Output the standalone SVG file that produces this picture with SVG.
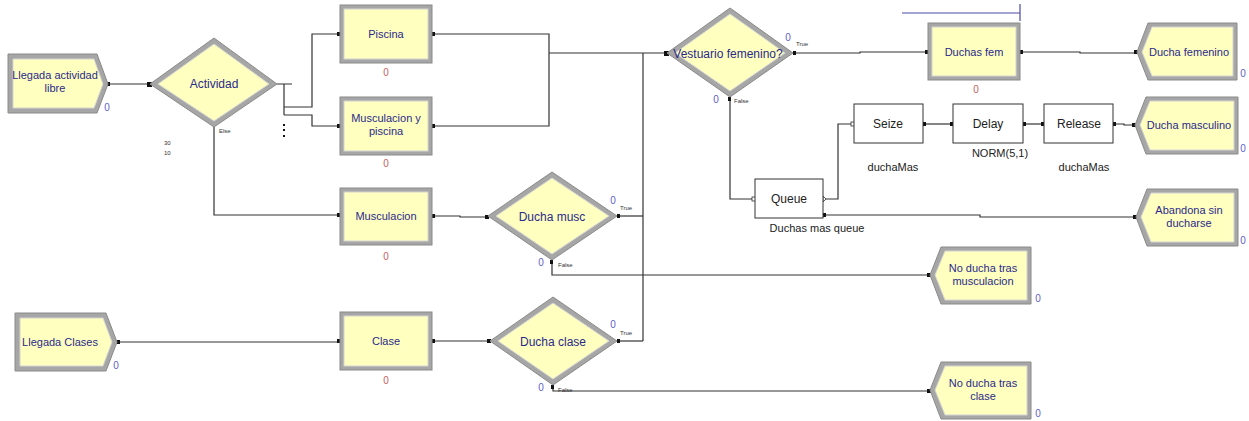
<svg xmlns="http://www.w3.org/2000/svg" width="1249" height="421" viewBox="0 0 1249 421">
<style>
.ob{fill:#a6a6a6;stroke:#8a8a8a;stroke-width:1}
.ib{fill:#ffffc0;stroke:#d4d4d4;stroke-width:1}
.wb{fill:#ffffff;stroke:#333;stroke-width:1}
.lb{font-family:"Liberation Sans",Arial,sans-serif;font-size:11px;fill:#2a2a8a;text-anchor:middle}
.dl{font-family:"Liberation Sans",Arial,sans-serif;font-size:12px;fill:#2a2a8a;text-anchor:middle}
.bl{font-family:"Liberation Sans",Arial,sans-serif;font-size:12px;fill:#222;text-anchor:middle}
.sl{font-family:"Liberation Sans",Arial,sans-serif;font-size:11px;fill:#222;text-anchor:middle}
.cr{font-family:"Liberation Sans",Arial,sans-serif;font-size:10px;fill:#c86060;text-anchor:middle}
.cb{font-family:"Liberation Sans",Arial,sans-serif;font-size:10px;fill:#6060c8;text-anchor:middle}
.tiny{font-family:"Liberation Sans",Arial,sans-serif;font-size:6px;fill:#333}
.cn{fill:none;stroke:#333;stroke-width:1.2}
.pt{fill:#111}
</style>
<g id="connectors">
<path class="cn" d="M108,84 H150"/>
<path class="cn" d="M277,84 H292 M284,84 V115 M284,107 H312 V34 H340 M284,115 H312 V126 H340"/>
<path class="cn" d="M214,127 V215 H340"/>
<path class="cn" d="M432,34 H549 V126 H432 M549,53 H667"/>
<path class="cn" d="M643,53 V341"/>
<path class="cn" d="M617,216 H643"/>
<path class="cn" d="M617,341 H643"/>
<path class="cn" d="M432,216 H460 V217 H488"/>
<path class="cn" d="M552,260 V275 H930"/>
<path class="cn" d="M117,342 H340"/>
<path class="cn" d="M432,341 H460 V341 H490"/>
<path class="cn" d="M553,385 V391 H930"/>
<path class="cn" d="M793,53 H860 V52 H928"/>
<path class="cn" d="M1020,52 H1080 V53 H1137"/>
<path class="cn" d="M730,97 V199 H755"/>
<path class="cn" d="M823,199 H838 V124 H854"/>
<path class="cn" d="M825,215 H980 V217 H1136"/>
<path class="cn" d="M923,124 H953"/>
<path class="cn" d="M1023,124 H1044"/>
<path class="cn" d="M1113,124 H1124 V125 H1135"/>
<path d="M902,13 H1020 M1020,4 V21" fill="none" stroke="#4a4aa8" stroke-width="1.2"/>
<rect class="pt" x="283" y="124" width="2" height="2"/>
<rect class="pt" x="283" y="129" width="2" height="2"/>
<rect class="pt" x="283" y="135" width="2" height="2"/>
<rect class="pt" x="106" y="82" width="4" height="4"/>
<rect class="pt" x="147" y="82" width="5" height="5"/>
<rect class="pt" x="337" y="32" width="4" height="4"/>
<rect class="pt" x="337" y="124" width="4" height="4"/>
<rect class="pt" x="337" y="213" width="4" height="4"/>
<rect class="pt" x="432" y="32" width="3" height="4"/>
<rect class="pt" x="432" y="124" width="3" height="4"/>
<rect class="pt" x="432" y="214" width="3" height="4"/>
<rect class="pt" x="664" y="51" width="5" height="5"/>
<rect class="pt" x="485" y="215" width="4" height="4"/>
<rect class="pt" x="617" y="214" width="3" height="4"/>
<rect class="pt" x="550" y="260" width="3" height="4"/>
<rect class="pt" x="927" y="273" width="4" height="4"/>
<rect class="pt" x="117" y="340" width="3" height="4"/>
<rect class="pt" x="337" y="339" width="4" height="4"/>
<rect class="pt" x="432" y="339" width="3" height="4"/>
<rect class="pt" x="487" y="339" width="4" height="4"/>
<rect class="pt" x="617" y="339" width="3" height="4"/>
<rect class="pt" x="551" y="385" width="3" height="4"/>
<rect class="pt" x="927" y="389" width="4" height="4"/>
<rect class="pt" x="793" y="51" width="3" height="4"/>
<rect class="pt" x="728" y="97" width="3" height="4"/>
<rect class="pt" x="925" y="50" width="4" height="4"/>
<rect class="pt" x="1020" y="50" width="3" height="4"/>
<rect class="pt" x="1134" y="50" width="4" height="4"/>
<rect x="752" y="197" width="4" height="4" fill="#fff" stroke="#333" stroke-width="0.8"/>
<rect x="851" y="122" width="4" height="4" fill="#fff" stroke="#333" stroke-width="0.8"/>
<path d="M823,196 L826,199 L823,202 Z" fill="#fff" stroke="#333" stroke-width="0.8"/>
<rect class="pt" x="823" y="213" width="3" height="4"/>
<rect class="pt" x="1133" y="215" width="4" height="4"/>
<rect class="pt" x="923" y="122" width="3" height="4"/>
<rect class="pt" x="950" y="122" width="4" height="4"/>
<rect class="pt" x="1023" y="122" width="3" height="4"/>
<rect class="pt" x="1041" y="122" width="4" height="4"/>
<rect class="pt" x="1113" y="122" width="3" height="4"/>
<rect class="pt" x="1132" y="123" width="4" height="4"/>
</g>
<g id="llegada-actividad-libre">
<polygon class="ob" points="8,54 97,54 108,84 97,113 8,113"/>
<polygon class="ib" points="13,59 94,59 103,84 94,108 13,108"/>
<text class="lb" x="55" y="79">Llegada actividad</text>
<text class="lb" x="55" y="92">libre</text>
<text class="cb" x="107" y="111">0</text>
</g>
<g id="actividad">
<polygon class="ob" points="150,84 214,38 277,84 214,127"/>
<polygon class="ib" points="158,84 214,44 269,84 214,121"/>
<text class="dl" x="214" y="88">Actividad</text>
<text class="tiny" x="219" y="133">Else</text>
<text class="tiny" x="164" y="145">30</text>
<text class="tiny" x="164" y="155">10</text>
</g>
<g id="piscina">
<rect class="ob" x="340" y="5" width="92" height="58"/>
<rect class="ib" x="344" y="9" width="84" height="50"/>
<text class="lb" x="386" y="38">Piscina</text>
<text class="cr" x="386" y="76">0</text>
</g>
<g id="musculacion-y-piscina">
<rect class="ob" x="340" y="97" width="92" height="58"/>
<rect class="ib" x="344" y="101" width="84" height="50"/>
<text class="lb" x="386" y="122">Musculacion y</text>
<text class="lb" x="386" y="135">piscina</text>
<text class="cr" x="386" y="167">0</text>
</g>
<g id="musculacion">
<rect class="ob" x="340" y="188" width="92" height="57"/>
<rect class="ib" x="344" y="192" width="84" height="49"/>
<text class="lb" x="386" y="220">Musculacion</text>
<text class="cr" x="386" y="260">0</text>
</g>
<g id="ducha-musc">
<polygon class="ob" points="488,216 552,172 617,216 552,260"/>
<polygon class="ib" points="496,216 552,178 609,216 552,254"/>
<text class="dl" x="552" y="221">Ducha musc</text>
<text class="cb" x="613" y="204">0</text>
<text class="cb" x="541" y="266">0</text>
<text class="tiny" x="620" y="210">True</text>
<text class="tiny" x="558" y="267">False</text>
</g>
<g id="llegada-clases">
<polygon class="ob" points="15,313 106,313 117,342 106,371 15,371"/>
<polygon class="ib" points="20,318 103,318 112,342 103,366 20,366"/>
<text class="lb" x="60" y="346">Llegada Clases</text>
<text class="cb" x="116" y="369">0</text>
</g>
<g id="clase">
<rect class="ob" x="340" y="312" width="92" height="58"/>
<rect class="ib" x="344" y="316" width="84" height="50"/>
<text class="lb" x="386" y="345">Clase</text>
<text class="cr" x="386" y="384">0</text>
</g>
<g id="ducha-clase">
<polygon class="ob" points="490,341 553,297 617,341 553,385"/>
<polygon class="ib" points="498,341 553,303 609,341 553,379"/>
<text class="dl" x="553" y="346">Ducha clase</text>
<text class="cb" x="613" y="328">0</text>
<text class="cb" x="541" y="391">0</text>
<text class="tiny" x="620" y="335">True</text>
<text class="tiny" x="558" y="392">False</text>
</g>
<g id="vestuario-femenino">
<polygon class="ob" points="667,53 730,8 793,53 730,97"/>
<polygon class="ib" points="675,53 730,14 785,53 730,91"/>
<text class="dl" x="728" y="58">Vestuario femenino?</text>
<text class="cb" x="788" y="41">0</text>
<text class="cb" x="716" y="103">0</text>
<text class="tiny" x="796" y="46">True</text>
<text class="tiny" x="734" y="103">False</text>
</g>
<g id="duchas-fem">
<rect class="ob" x="928" y="23" width="92" height="57"/>
<rect class="ib" x="932" y="27" width="84" height="49"/>
<text class="lb" x="974" y="56">Duchas fem</text>
<text class="cr" x="976" y="93">0</text>
</g>
<g id="ducha-femenino">
<polygon class="ob" points="1148,23 1237,23 1237,80 1148,80 1137,52"/>
<polygon class="ib" points="1152,27 1233,27 1233,76 1152,76 1142,52"/>
<text class="lb" x="1189" y="56">Ducha femenino</text>
<text class="cb" x="1243" y="77">0</text>
</g>
<g id="seize">
<rect class="wb" x="854" y="104" width="69" height="39"/>
<text class="bl" x="888" y="128">Seize</text>
<text class="sl" x="893" y="171">duchaMas</text>
</g>
<g id="delay">
<rect class="wb" x="953" y="104" width="70" height="39"/>
<text class="bl" x="988" y="128">Delay</text>
<text class="sl" x="1000" y="157">NORM(5,1)</text>
</g>
<g id="release">
<rect class="wb" x="1044" y="104" width="69" height="39"/>
<text class="bl" x="1079" y="128">Release</text>
<text class="sl" x="1084" y="171">duchaMas</text>
</g>
<g id="ducha-masculino">
<polygon class="ob" points="1146,97 1238,97 1238,154 1146,154 1135,125"/>
<polygon class="ib" points="1150,101 1234,101 1234,150 1150,150 1140,125"/>
<text class="lb" x="1189" y="129">Ducha masculino</text>
<text class="cb" x="1243" y="152">0</text>
</g>
<g id="queue">
<rect class="wb" x="755" y="179" width="68" height="39"/>
<text class="bl" x="789" y="203">Queue</text>
<text class="sl" x="817" y="232">Duchas mas queue</text>
</g>
<g id="abandona-sin-ducharse">
<polygon class="ob" points="1147,189 1238,189 1238,246 1147,246 1136,217"/>
<polygon class="ib" points="1151,193 1234,193 1234,242 1151,242 1141,217"/>
<text class="lb" x="1189" y="214">Abandona sin</text>
<text class="lb" x="1189" y="227">ducharse</text>
<text class="cb" x="1243" y="244">0</text>
</g>
<g id="no-ducha-tras-musculacion">
<polygon class="ob" points="941,247 1031,247 1031,304 941,304 930,275"/>
<polygon class="ib" points="945,251 1027,251 1027,300 945,300 935,275"/>
<text class="lb" x="983" y="272">No ducha tras</text>
<text class="lb" x="983" y="285">musculacion</text>
<text class="cb" x="1038" y="302">0</text>
</g>
<g id="no-ducha-tras-clase">
<polygon class="ob" points="941,362 1031,362 1031,419 941,419 930,390"/>
<polygon class="ib" points="945,366 1027,366 1027,415 945,415 935,390"/>
<text class="lb" x="983" y="387">No ducha tras</text>
<text class="lb" x="983" y="400">clase</text>
<text class="cb" x="1038" y="417">0</text>
</g>
</svg>
